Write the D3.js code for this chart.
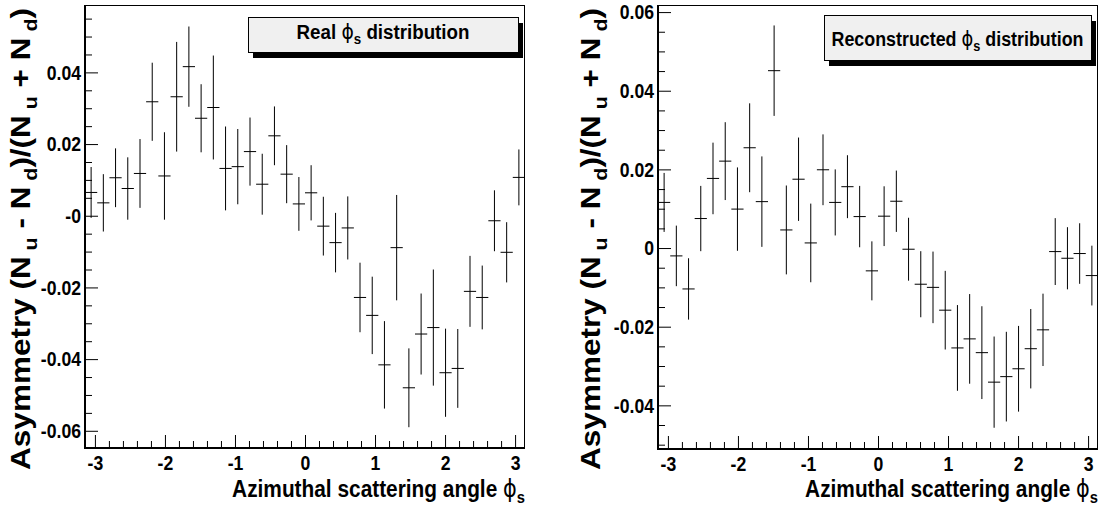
<!DOCTYPE html>
<html>
<head>
<meta charset="utf-8">
<script src="https://cdn.jsdelivr.net/npm/d3@7"></script>
<style>
  body { margin: 0; background: #fff; }
  svg { display: block; }
  .tick text { font-family: "Liberation Sans", Arial, sans-serif; font-weight: bold; font-size: 21px; fill: #000; }
  .tick line { stroke: #000; stroke-width: 1; }
</style>
</head>
<body>
<svg id="chart" width="1099" height="512"></svg>
<script>
// ---- data ----------------------------------------------------------------
const binCount = 36;

const xTickValues = [-3, -2, -1, 0, 1, 2, 3];
const xTickLabels = ["-3", "-2", "-1", "0", "1", "2", "3"];

// Real phi_s distribution: asymmetry per bin and its statistical error
const realValues = [0.0065, 0.0036, 0.0106, 0.0076, 0.0118, 0.0318, 0.0111, 0.0332, 0.0416, 0.0272,
                    0.0302, 0.0132, 0.0137, 0.0179, 0.0088, 0.0223, 0.0116, 0.0033, 0.0064, -0.0029,
                    -0.0075, -0.0034, -0.0228, -0.0278, -0.0416, -0.0089, -0.0480, -0.0330, -0.0312, -0.0438,
                    -0.0426, -0.0211, -0.0228, -0.0014, -0.0102, 0.0107];
const realErrors = [0.0071, 0.0080, 0.0082, 0.0087, 0.0096, 0.0109, 0.0122, 0.0153, 0.0112, 0.0095,
                    0.0145, 0.0117, 0.0105, 0.0095, 0.0085, 0.0082, 0.0081, 0.0075, 0.0077, 0.0082,
                    0.0083, 0.0088, 0.0097, 0.0108, 0.0122, 0.0147, 0.0110, 0.0113, 0.0162, 0.0123,
                    0.0110, 0.0099, 0.0089, 0.0085, 0.0084, 0.0078];
const realYDomain = [-0.0648, 0.0588];
const realYTickValues = [0.04, 0.02, 0, -0.02, -0.04, -0.06];
const realYTickLabels = ["0.04", "0.02", "-0", "-0.02", "-0.04", "-0.06"];

// Reconstructed phi_s distribution
const recoValues = [0.0116, -0.0020, -0.0104, 0.0075, 0.0177, 0.0221, 0.0099, 0.0255, 0.0118, 0.0451,
                    0.0046, 0.0175, 0.0013, 0.0199, 0.0116, 0.0156, 0.0080, -0.0058, 0.0081, 0.0119,
                    -0.0003, -0.0092, -0.0100, -0.0158, -0.0254, -0.0231, -0.0266, -0.0341, -0.0327, -0.0307,
                    -0.0256, -0.0208, -0.0009, -0.0026, -0.0014, -0.0070];
const recoErrors = [0.0075, 0.0077, 0.0078, 0.0083, 0.0091, 0.0099, 0.0106, 0.0113, 0.0115, 0.0115,
                    0.0113, 0.0106, 0.0100, 0.0090, 0.0084, 0.0080, 0.0078, 0.0075, 0.0076, 0.0078,
                    0.0080, 0.0084, 0.0091, 0.0100, 0.0109, 0.0114, 0.0118, 0.0116, 0.0114, 0.0109,
                    0.0101, 0.0092, 0.0085, 0.0079, 0.0077, 0.0076];
const recoYDomain = [-0.0511, 0.0618];
const recoYTickValues = [0.06, 0.04, 0.02, 0, -0.02, -0.04];
const recoYTickLabels = ["0.06", "0.04", "0.02", "0", "-0.02", "-0.04"];

// ---- layout --------------------------------------------------------------
const panels = [
  { values: realValues, errors: realErrors, yDomain: realYDomain,
    yTicks: realYTickValues, yLabels: realYTickLabels, legendWord: "Real",
    left: 85, right: 525, top: 5, bottom: 448,
    legendBox: { x0: 248, y0: 17, x1: 518, y1: 52 }, legendBaseline: 38.5, legendWidth: 173,
    yTitleX: 30 },
  { values: recoValues, errors: recoErrors, yDomain: recoYDomain,
    yTicks: recoYTickValues, yLabels: recoYTickLabels, legendWord: "Reconstructed",
    left: 658, right: 1098, top: 5, bottom: 449,
    legendBox: { x0: 824, y0: 15, x1: 1091, y1: 60 }, legendBaseline: 46, legendWidth: 252,
    yTitleX: 600 }
];

const SANS = '"Liberation Sans", Arial, sans-serif';
const PHI_FONT = '"DejaVu Sans", sans-serif';
const TICK_SQUEEZE = 0.84;   // condensed look for the numeric labels

const svg = d3.select("#chart");
const binWidth = 2 * Math.PI / binCount;
const centers = d3.range(binCount).map(i => -Math.PI + (i + 0.5) * binWidth);

// squeeze/stretch a text horizontally (in its own direction) to a given width
function fitWidth(group, text, target, base) {
  const w = text.node().getBBox().width;
  group.attr("transform", `${base} scale(${target / w},1)`);
}

panels.forEach(p => {
  const x = d3.scaleLinear([-Math.PI, Math.PI], [p.left, p.right]);
  const y = d3.scaleLinear(p.yDomain, [p.bottom, p.top]);
  const g = svg.append("g");

  // frame
  g.append("rect")
    .attr("x", p.left + 0.5).attr("y", p.top + 0.5)
    .attr("width", p.right - p.left - 1).attr("height", p.bottom - p.top - 1)
    .attr("fill", "none").attr("stroke", "#000").attr("stroke-width", 1);

  // y axis: major ticks with labels, minor ticks every 0.005
  const yMinor = d3.range(Math.ceil(p.yDomain[0] / 0.005), Math.floor(p.yDomain[1] / 0.005) + 1)
    .filter(k => k % 4 !== 0).map(k => k * 0.005);
  g.append("g").attr("transform", `translate(${p.left},0)`)
    .call(d3.axisLeft(y).tickValues(yMinor).tickSize(-7).tickFormat(""))
    .call(a => a.select(".domain").remove());
  g.append("g").attr("transform", `translate(${p.left},0)`)
    .call(d3.axisLeft(y).tickValues(p.yTicks).tickSize(-13).tickPadding(4)
      .tickFormat((d, i) => p.yLabels[i]))
    .call(a => a.select(".domain").remove())
    .call(a => a.selectAll(".tick text")
      .attr("x", -4 / TICK_SQUEEZE).attr("transform", `scale(${TICK_SQUEEZE},1)`));

  // x axis: integers labelled, minor ticks every 0.2
  const xMinor = d3.range(-15, 16).filter(k => k % 5 !== 0).map(k => k * 0.2)
    .filter(v => v > -Math.PI && v < Math.PI);
  g.append("g").attr("transform", `translate(0,${p.bottom})`)
    .call(d3.axisBottom(x).tickValues(xMinor).tickSize(-7).tickFormat(""))
    .call(a => a.select(".domain").remove());
  g.append("g").attr("transform", `translate(0,${p.bottom})`)
    .call(d3.axisBottom(x).tickValues(xTickValues).tickSize(-13).tickPadding(7)
      .tickFormat((d, i) => xTickLabels[i]))
    .call(a => a.select(".domain").remove())
    .call(a => a.selectAll(".tick text").attr("transform", `scale(${TICK_SQUEEZE},1)`));

  // heavier axis lines on the left and bottom
  g.append("line").attr("x1", p.left).attr("x2", p.left)
    .attr("y1", p.top).attr("y2", p.bottom + 1)
    .attr("stroke", "#000").attr("stroke-width", 2);
  g.append("line").attr("x1", p.left).attr("x2", p.right)
    .attr("y1", p.bottom).attr("y2", p.bottom)
    .attr("stroke", "#000").attr("stroke-width", 2);

  // error bars
  const pts = centers.map((c, i) => ({ c, v: p.values[i], e: p.errors[i] }));
  g.append("g").selectAll("line").data(pts).join("line")
    .attr("x1", d => x(d.c)).attr("x2", d => x(d.c))
    .attr("y1", d => y(d.v - d.e)).attr("y2", d => y(d.v + d.e))
    .attr("stroke", "#000").attr("stroke-width", 1);
  g.append("g").selectAll("line").data(pts).join("line")
    .attr("x1", d => x(d.c - binWidth / 2)).attr("x2", d => x(d.c + binWidth / 2))
    .attr("y1", d => y(d.v)).attr("y2", d => y(d.v))
    .attr("stroke", "#000").attr("stroke-width", 1);

  // legend box with drop shadow
  const b = p.legendBox;
  g.append("rect").attr("x", b.x0 + 5).attr("y", b.y0 + 6)
    .attr("width", b.x1 - b.x0).attr("height", b.y1 - b.y0).attr("fill", "#000");
  g.append("rect").attr("x", b.x0 + 0.5).attr("y", b.y0 + 0.5)
    .attr("width", b.x1 - b.x0).attr("height", b.y1 - b.y0)
    .attr("fill", "#f0f0f0").attr("stroke", "#000").attr("stroke-width", 1);
  const lg = g.append("g");
  const lt = lg.append("text").attr("text-anchor", "middle")
    .style("font-family", SANS).style("font-weight", "bold").style("font-size", "21px");
  lt.append("tspan").text(p.legendWord + " ");
  lt.append("tspan").style("font-family", PHI_FONT).style("font-weight", "normal").text("ϕ");
  lt.append("tspan").attr("dy", 5).style("font-size", "15px").text("s");
  lt.append("tspan").attr("dy", -5).text(" distribution");
  fitWidth(lg, lt, p.legendWidth, `translate(${(b.x0 + b.x1) / 2},${p.legendBaseline})`);

  // x title, right-aligned to the end of the axis
  const xg = g.append("g");
  const xt = xg.append("text").attr("text-anchor", "end")
    .style("font-family", SANS).style("font-weight", "bold").style("font-size", "24px");
  xt.append("tspan").text("Azimuthal scattering angle ");
  xt.append("tspan").style("font-family", PHI_FONT).style("font-weight", "normal").text("ϕ");
  xt.append("tspan").attr("dy", 6).style("font-size", "17px").text("s");
  fitWidth(xg, xt, 293, `translate(${p.right},497)`);

  // y title, rotated, ending near the top of the frame
  const yg = g.append("g");
  const yt = yg.append("text").attr("text-anchor", "end")
    .style("font-family", SANS).style("font-weight", "bold").style("font-size", "28px");
  const parts = [["Asymmetry (N"], ["u", 1], [" - N"], ["d", 1], [")/(N"], ["u", 1], [" + N"], ["d", 1], [")"]];
  parts.forEach(([t, sub], i) => {
    yt.append("tspan").attr("dy", sub ? 7 : (i ? -7 : 0))
      .style("font-size", sub ? "19px" : null).text(sub ? " " + t : t);
  });
  fitWidth(yg, yt, 462, `translate(${p.yTitleX},8) rotate(-90)`);
});
</script>
</body>
</html>
